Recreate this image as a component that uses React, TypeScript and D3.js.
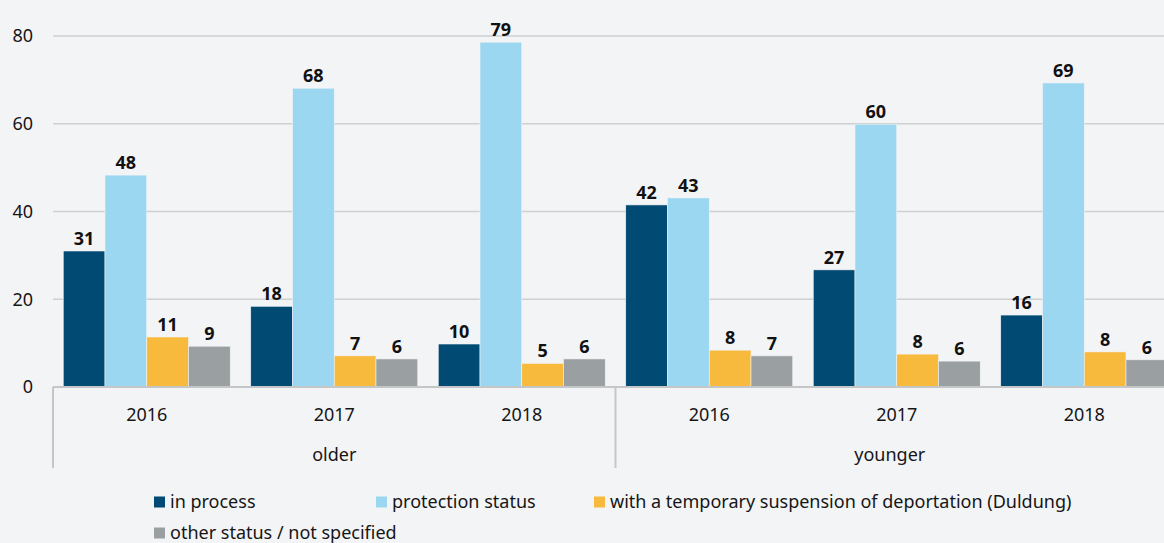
import React, { useEffect, useRef } from "react";
import * as d3 from "d3";

const groups = ["older", "younger"];
const years = ["2016", "2017", "2018"];
const series = [
  "in process",
  "protection status",
  "with a temporary suspension of deportation (Duldung)",
  "other status / not specified",
];
const colors = ["#004a74", "#9bd7f0", "#f7ba3d", "#9a9fa1"];

// values per group/year, in series order
const olderValues = [
  [31.0, 48.3, 11.4, 9.3],
  [18.4, 68.1, 7.1, 6.4],
  [9.8, 78.6, 5.4, 6.4],
];
const youngerValues = [
  [41.5, 43.1, 8.4, 7.1],
  [26.7, 59.9, 7.5, 5.9],
  [16.4, 69.3, 8.0, 6.2],
];
const yTicks = [0, 20, 40, 60, 80];

export default function App() {
  const ref = useRef<SVGSVGElement>(null);

  useEffect(() => {
    const svg = d3.select(ref.current);
    svg.selectAll("*").remove();

    const W = 1164, H = 543;
    const left = 53, right = 1178, zeroY = 387, topY = 36;
    const font = "'Noto Sans', sans-serif";
    const ink = "#161616";

    svg.attr("width", W).attr("height", H);
    svg.append("rect").attr("width", W).attr("height", H).attr("fill", "#f3f4f6");

    const rows: { key: string; group: string; year: string; values: number[] }[] = [];
    groups.forEach((g, gi) => {
      const vals = gi === 0 ? olderValues : youngerValues;
      years.forEach((yr, yi) => rows.push({ key: g + yr, group: g, year: yr, values: vals[yi] }));
    });

    const x0 = d3.scaleBand().domain(rows.map((r) => r.key)).range([left, right]).padding(0);
    const x1 = d3.scaleBand().domain(series).range([0, x0.bandwidth()]).paddingInner(0).paddingOuter(0.2455);
    const y = d3.scaleLinear().domain([0, 80]).range([zeroY, topY]);

    // grid
    svg.append("g")
      .selectAll("line")
      .data(yTicks.filter((t) => t > 0))
      .enter()
      .append("line")
      .attr("x1", left)
      .attr("x2", W)
      .attr("y1", (d) => y(d))
      .attr("y2", (d) => y(d))
      .attr("stroke", "#cfd0d2")
      .attr("stroke-width", 1.5);

    svg.append("g")
      .selectAll("text")
      .data(yTicks)
      .enter()
      .append("text")
      .attr("x", 33)
      .attr("y", (d) => y(d))
      .attr("dy", "0.35em")
      .attr("text-anchor", "end")
      .attr("font-family", font)
      .attr("font-size", 18)
      .attr("fill", ink)
      .text((d) => d);

    // bars
    const bandG = svg.append("g")
      .selectAll("g")
      .data(rows)
      .enter()
      .append("g")
      .attr("transform", (d) => `translate(${x0(d.key)},0)`);

    bandG.selectAll("rect")
      .data((d) => d.values.map((v, i) => ({ v, s: series[i], i })))
      .enter()
      .append("rect")
      .attr("x", (d) => x1(d.s)!)
      .attr("y", (d) => y(d.v))
      .attr("width", x1.bandwidth())
      .attr("height", (d) => zeroY - y(d.v))
      .attr("fill", (d) => colors[d.i])
      .attr("stroke", "#f3f4f6")
      .attr("stroke-width", 0.6);

    bandG.selectAll("text")
      .data((d) => d.values.map((v, i) => ({ v, s: series[i] })))
      .enter()
      .append("text")
      .attr("x", (d) => x1(d.s)! + x1.bandwidth() / 2)
      .attr("y", (d) => y(d.v) - 6)
      .attr("text-anchor", "middle")
      .attr("font-family", font)
      .attr("font-size", 18)
      .attr("font-weight", "bold")
      .attr("fill", "#111")
      .text((d) => Math.round(d.v));

    // baseline + group separators
    svg.append("line")
      .attr("x1", left).attr("x2", W)
      .attr("y1", zeroY).attr("y2", zeroY)
      .attr("stroke", "#c4c6c8").attr("stroke-width", 2);

    const sepXs = [left, x0(groups[1] + years[0])!];
    svg.append("g")
      .selectAll("line")
      .data(sepXs)
      .enter()
      .append("line")
      .attr("x1", (d) => d).attr("x2", (d) => d)
      .attr("y1", zeroY).attr("y2", 468)
      .attr("stroke", "#c4c6c8").attr("stroke-width", 2);

    // year labels
    svg.append("g")
      .selectAll("text")
      .data(rows)
      .enter()
      .append("text")
      .attr("x", (d) => x0(d.key)! + x0.bandwidth() / 2)
      .attr("y", 415)
      .attr("dy", "0.35em")
      .attr("text-anchor", "middle")
      .attr("font-family", font)
      .attr("font-size", 18)
      .attr("fill", ink)
      .text((d) => d.year);

    // group labels
    svg.append("g")
      .selectAll("text")
      .data(groups)
      .enter()
      .append("text")
      .attr("x", (g) => {
        const a = x0(g + years[0])!;
        const b = x0(g + years[years.length - 1])! + x0.bandwidth();
        return (a + Math.min(b, W)) / 2;
      })
      .attr("y", 455)
      .attr("dy", "0.35em")
      .attr("text-anchor", "middle")
      .attr("font-family", font)
      .attr("font-size", 18)
      .attr("fill", ink)
      .text((d) => d);

    // legend
    const legendPos = [
      [154, 502],
      [376, 502],
      [594, 502],
      [154, 533],
    ];
    const lg = svg.append("g")
      .selectAll("g")
      .data(series)
      .enter()
      .append("g")
      .attr("transform", (d, i) => `translate(${legendPos[i][0]},${legendPos[i][1]})`);
    lg.append("rect")
      .attr("x", 0).attr("y", -5.5)
      .attr("width", 11).attr("height", 11)
      .attr("fill", (d, i) => colors[i]);
    lg.append("text")
      .attr("x", 16)
      .attr("y", 0)
      .attr("dy", "0.35em")
      .attr("font-family", font)
      .attr("font-size", 18)
      .attr("fill", ink)
      .text((d) => d);
  }, []);

  return (
    <div style={{ position: "fixed", left: 0, top: 0 }}>
      <svg ref={ref} style={{ display: "block" }}></svg>
    </div>
  );
}
